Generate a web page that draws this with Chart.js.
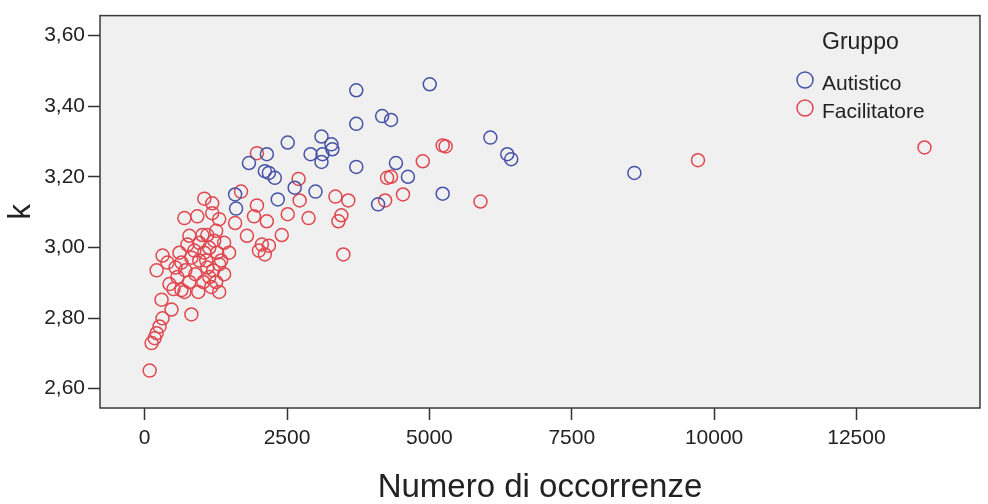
<!DOCTYPE html>
<html>
<head>
<meta charset="utf-8">
<script src="https://cdn.jsdelivr.net/npm/chart.js@4/dist/chart.umd.min.js"></script>
<style>
  html, body { margin: 0; padding: 0; background: #ffffff; }
  #chart { display: block; }
</style>
</head>
<body>
<canvas id="chart" width="988" height="504"></canvas>
<script>
// Numero di occorrenze (x) and k (y) for each group
const autisticoX = [3716, 5006, 3716, 4170, 4326, 2512, 3105, 3279, 3296, 3123, 2913, 3105, 1831, 2110, 2181, 2285,
  3716, 4413, 4623, 5233, 2634, 3000, 2337, 1588, 4099, 6071, 6367, 6437, 8600, 1605, 2145];
const autisticoK = [3.445, 3.462, 3.350, 3.372, 3.361, 3.297, 3.314, 3.292, 3.278, 3.264, 3.264, 3.242, 3.239, 3.216, 3.211, 3.197,
  3.228, 3.239, 3.200, 3.152, 3.169, 3.158, 3.136, 3.150, 3.122, 3.311, 3.264, 3.250, 3.211, 3.110, 3.264];

const facilitatoreX = [5233, 5285, 4884, 4536, 5897, 9717, 13695, 4257, 4326, 4222, 3350, 3576, 3454, 3402, 2878, 2512,
  2721, 2703, 3489, 2407, 2181, 2058, 1796, 2006, 2110, 1971, 1971, 2145, 1919, 1692, 1588, 1047,
  1186, 697, 924, 1186, 785, 1012, 1255, 1395, 610, 872, 314, 400, 209, 645, 1081, 1343,
  435, 645, 296, 471, 820, 314, 261, 209, 174, 121, 87, 1255, 1134,
  750, 959, 1134, 1221, 820, 959, 1099, 1203, 1308, 714, 889, 1029, 1168, 1308, 575, 785,
  941, 697, 506, 1395, 1482, 1273, 541, 1047, 1099, 1308];
const facilitatoreK = [3.289, 3.286, 3.244, 3.150, 3.130, 3.247, 3.283, 3.197, 3.200, 3.133, 3.144, 3.133, 3.091, 3.074, 3.083, 3.094,
  3.133, 3.194, 2.980, 3.035, 3.005, 3.008, 3.033, 2.991, 2.980, 3.267, 3.119, 3.074, 3.088, 3.158, 3.069, 3.138,
  3.125, 3.083, 3.088, 3.097, 3.033, 3.035, 3.047, 3.013, 2.985, 2.991, 2.977, 2.957, 2.935, 2.957, 2.963, 2.963,
  2.896, 2.879, 2.852, 2.824, 2.810, 2.799, 2.776, 2.757, 2.743, 2.729, 2.651, 2.902, 2.916,
  3.008, 3.013, 2.999, 3.019, 2.971, 2.963, 2.943, 2.935, 2.952, 2.935, 2.924, 2.902, 2.888, 2.874, 2.916, 2.902,
  2.874, 2.874, 2.882, 2.924, 2.985, 2.985, 2.943, 2.985, 3.035, 3.080];

const groupNames = ['Autistico', 'Facilitatore'];
const legendTitle = 'Gruppo';
const xTicks = [0, 2500, 5000, 7500, 10000, 12500];
const xTickLabels = ['0', '2500', '5000', '7500', '10000', '12500'];
const yTicks = [2.6, 2.8, 3.0, 3.2, 3.4, 3.6];
const yTickLabels = ['2,60', '2,80', '3,00', '3,20', '3,40', '3,60'];
const xTitle = 'Numero di occorrenze';
const yTitle = 'k';

const BLUE = '#4753a6';
const RED = '#e0474f';
const FONT = '"Liberation Sans", Arial, sans-serif';
const INK = '#222222';

function toPoints(xs, ks) {
  return xs.map((x, i) => ({ x: x, y: ks[i] }));
}

// Grey plotting panel behind the markers, dark frame around it
const panelPlugin = {
  id: 'panel',
  beforeDatasetsDraw(chart) {
    const { ctx, chartArea: a } = chart;
    ctx.save();
    ctx.fillStyle = '#f0f0f0';
    ctx.fillRect(a.left, a.top, a.right - a.left, a.bottom - a.top);
    ctx.restore();
  },
  afterDatasetsDraw(chart) {
    const { ctx, chartArea: a } = chart;
    ctx.save();
    ctx.strokeStyle = '#3a3a3a';
    ctx.lineWidth = 1.5;
    ctx.strokeRect(a.left, a.top, a.right - a.left, a.bottom - a.top);
    ctx.restore();
  }
};

// Legend with title, placed inside the panel at the top right
const groupLegend = {
  id: 'groupLegend',
  afterDraw(chart) {
    const ctx = chart.ctx;
    ctx.save();
    ctx.fillStyle = INK;
    ctx.textAlign = 'left';
    ctx.textBaseline = 'alphabetic';
    ctx.font = '23px ' + FONT;
    ctx.fillText(legendTitle, 822, 49);
    const rows = [80, 108];
    chart.data.datasets.forEach((ds, i) => {
      const cy = rows[i];
      ctx.beginPath();
      ctx.arc(805, cy, 8, 0, Math.PI * 2);
      ctx.strokeStyle = ds.borderColor;
      ctx.lineWidth = 1.5;
      ctx.stroke();
      ctx.fillStyle = INK;
      ctx.font = '21px ' + FONT;
      ctx.fillText(ds.label, 822, cy + 10);
    });
    ctx.restore();
  }
};

new Chart(document.getElementById('chart'), {
  type: 'scatter',
  data: {
    datasets: [
      {
        label: groupNames[0],
        data: toPoints(autisticoX, autisticoK),
        borderColor: BLUE,
        backgroundColor: 'rgba(0,0,0,0)',
        pointRadius: 6.5,
        borderWidth: 1.5,
        pointHoverRadius: 6.5
      },
      {
        label: groupNames[1],
        data: toPoints(facilitatoreX, facilitatoreK),
        borderColor: RED,
        backgroundColor: 'rgba(0,0,0,0)',
        pointRadius: 6.5,
        borderWidth: 1.5,
        pointHoverRadius: 6.5
      }
    ]
  },
  options: {
    responsive: false,
    animation: false,
    layout: { padding: { top: 9, right: 2, left: 0, bottom: 0 } },
    plugins: {
      legend: { display: false },
      tooltip: { enabled: false }
    },
    scales: {
      x: {
        type: 'linear',
        min: -785,
        max: 14670,
        afterBuildTicks(scale) { scale.ticks = xTicks.map(v => ({ value: v })); },
        afterFit(scale) { scale.height = 96; },
        border: { display: false },
        grid: { drawOnChartArea: false, drawTicks: true, tickLength: 12, tickWidth: 1.5, tickColor: '#333333' },
        ticks: {
          padding: 6,
          color: INK,
          font: { family: FONT, size: 21 },
          maxRotation: 0,
          callback(value) { const i = xTicks.indexOf(value); return i >= 0 ? xTickLabels[i] : ''; }
        },
        title: {
          display: true,
          text: xTitle,
          color: INK,
          font: { family: FONT, size: 33, lineHeight: 1 },
          padding: { top: 0, bottom: 0 }
        }
      },
      y: {
        type: 'linear',
        min: 2.5451,
        max: 3.6566,
        afterBuildTicks(scale) { scale.ticks = yTicks.map(v => ({ value: v })); },
        afterFit(scale) { scale.width = 100; },
        border: { display: false },
        grid: { drawOnChartArea: false, drawTicks: true, tickLength: 12, tickWidth: 1.5, tickColor: '#333333' },
        ticks: {
          padding: 3,
          color: INK,
          font: { family: FONT, size: 21 },
          callback(value) {
            const i = yTicks.findIndex(t => Math.abs(t - value) < 1e-9);
            return i >= 0 ? yTickLabels[i] : '';
          }
        },
        title: {
          display: true,
          text: yTitle,
          color: INK,
          font: { family: FONT, size: 31, lineHeight: 1 },
          padding: { top: 6, bottom: 0 }
        }
      }
    }
  },
  plugins: [panelPlugin, groupLegend]
});
</script>
</body>
</html>
